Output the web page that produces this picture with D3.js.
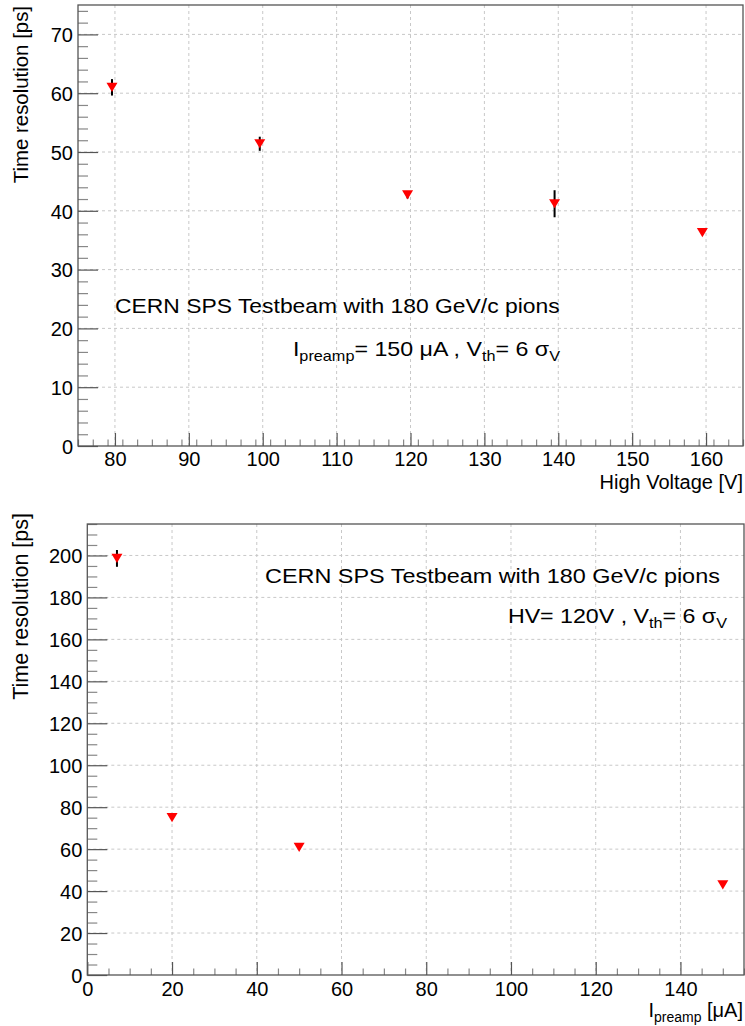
<!DOCTYPE html>
<html><head><meta charset="utf-8">
<script src="https://cdn.jsdelivr.net/npm/d3@7"></script>
<style>
body{margin:0;background:#fff;}
svg{display:block;font-family:"Liberation Sans",Arial,Helvetica,sans-serif;}
</style></head>
<body><svg id="c" width="745" height="1026"></svg>
<script>
// ---- data: top panel (time resolution vs high voltage) ----
const hvValues = [79.6, 99.6, 119.6, 139.5, 159.5];
const hvRes    = [61.0, 51.4, 42.7, 41.2, 36.3];
const hvErr    = [1.4, 1.2, 0.6, 2.3, 0.4];
const hvMajorTicks = [80, 90, 100, 110, 120, 130, 140, 150, 160];
const hvResTicks = [0, 10, 20, 30, 40, 50, 60, 70];
// ---- data: bottom panel (time resolution vs preamp current) ----
const ipValues = [7, 20, 50, 150];
const ipRes    = [198.6, 75.0, 60.8, 43.0];
const ipErr    = [4.0, 0.8, 0.8, 0.6];
const ipMajorTicks = [0, 20, 40, 60, 80, 100, 120, 140];
const ipResTicks = [0, 20, 40, 60, 80, 100, 120, 140, 160, 180, 200];

const svg = d3.select("#c");
const FS = 20;

function panel(cfg){
  const g = svg.append("g");
  const x = d3.scaleLinear().domain(cfg.xdom).range([cfg.left, cfg.right]);
  const y = d3.scaleLinear().domain(cfg.ydom).range([cfg.bottom, cfg.top]);
  // grid
  g.append("g").selectAll("line").data(cfg.xMajor.filter(v=>v>cfg.xdom[0])).join("line")
    .attr("x1",d=>x(d)).attr("x2",d=>x(d)).attr("y1",cfg.top).attr("y2",cfg.bottom)
    .attr("stroke","#c8c8c8").attr("stroke-width",1).attr("stroke-dasharray","3,3");
  g.append("g").selectAll("line").data(cfg.yMajor.filter(v=>v>cfg.ydom[0])).join("line")
    .attr("y1",d=>y(d)).attr("y2",d=>y(d)).attr("x1",cfg.left).attr("x2",cfg.right)
    .attr("stroke","#c8c8c8").attr("stroke-width",1).attr("stroke-dasharray","3,3");
  // minor ticks
  const xMinor = d3.range(cfg.xdom[0], cfg.xdom[1]+1e-9, cfg.xMinorStep).filter(v=>!cfg.xMajor.includes(v));
  const yMinor = d3.range(cfg.ydom[0], cfg.ydom[1]+1e-9, cfg.yMinorStep).filter(v=>!cfg.yMajor.includes(v));
  const xaMin = d3.axisBottom(x).tickValues(xMinor).tickSize(-cfg.xMinLen).tickFormat("");
  const xaMaj = d3.axisBottom(x).tickValues(cfg.xMajor).tickSize(-cfg.xMajLen).tickFormat(d3.format("d"));
  const yaMin = d3.axisLeft(y).tickValues(yMinor).tickSize(-cfg.yMinLen).tickFormat("");
  const yaMaj = d3.axisLeft(y).tickValues(cfg.yMajor).tickSize(-cfg.yMajLen).tickFormat(d3.format("d"));
  const gx1 = g.append("g").attr("transform",`translate(0,${cfg.bottom})`).call(xaMin);
  const gx2 = g.append("g").attr("transform",`translate(0,${cfg.bottom})`).call(xaMaj);
  const gy1 = g.append("g").attr("transform",`translate(${cfg.left},0)`).call(yaMin);
  const gy2 = g.append("g").attr("transform",`translate(${cfg.left},0)`).call(yaMaj);
  [gx1,gx2,gy1,gy2].forEach(a=>{a.select(".domain").remove(); a.selectAll(".tick line").attr("stroke","#888").attr("stroke-width",1.2);});
  [gx2,gy2].forEach(a=>a.selectAll(".tick line").attr("stroke","#555"));
  gx2.selectAll(".tick text").attr("font-size",FS).attr("fill","#000").attr("font-family","Liberation Sans, Arial, sans-serif")
     .attr("y", cfg.xLabelDy).attr("dy","0");
  gy2.selectAll(".tick text").attr("font-size",FS).attr("fill","#000").attr("font-family","Liberation Sans, Arial, sans-serif")
     .attr("x",-5).attr("dy","0.36em");
  // frame
  g.append("rect").attr("x",cfg.left).attr("y",cfg.top).attr("width",cfg.right-cfg.left).attr("height",cfg.bottom-cfg.top)
    .attr("fill","none").attr("stroke","#555").attr("stroke-width",1.3);
  // error bars
  g.append("g").selectAll("line").data(cfg.xs).join("line")
    .attr("x1",(d)=>x(d)).attr("x2",d=>x(d))
    .attr("y1",(d,i)=>y(cfg.ys[i]-cfg.es[i])).attr("y2",(d,i)=>y(cfg.ys[i]+cfg.es[i]))
    .attr("stroke","#000").attr("stroke-width",2);
  // markers (down triangles)
  g.append("g").selectAll("path").data(cfg.xs).join("path")
    .attr("d","M-5.5,-4.6L5.5,-4.6L0,4.6Z")
    .attr("transform",(d,i)=>`translate(${x(d)},${y(cfg.ys[i])})`)
    .attr("fill","#ff0000");
  return {g,x,y};
}

const p1 = panel({xdom:[75,165], ydom:[0,75], left:78, right:743, top:5, bottom:446,
  xMajor:hvMajorTicks, yMajor:hvResTicks, xMinorStep:2, yMinorStep:2,
  xMajLen:13, xMinLen:6.5, yMajLen:20, yMinLen:10, xLabelDy:20,
  xs:hvValues, ys:hvRes, es:hvErr});
const p2 = panel({xdom:[0,155], ydom:[0,215], left:87.3, right:744, top:524, bottom:975,
  xMajor:ipMajorTicks, yMajor:ipResTicks, xMinorStep:5, yMinorStep:5,
  xMajLen:13, xMinLen:6.5, yMajLen:20, yMinLen:10, xLabelDy:21,
  xs:ipValues, ys:ipRes, es:ipErr});

// text helper; optional target width stretches the text horizontally about its anchor
function addText(x, y, parts, opt){
  opt = opt || {};
  const fs = opt.fs || FS;
  const t = svg.append("text").attr("x",x).attr("y",y).attr("font-size",fs)
    .attr("text-anchor",opt.anchor||"start").attr("fill","#000");
  parts.forEach(p=>{
    const s = t.append("tspan").text(p.t);
    if(p.sub){ s.attr("font-size",fs*0.7).attr("dy",fs*0.25); }
    if(p.back){ s.attr("dy",-fs*0.25); }
  });
  let tr = "";
  if(opt.rot) tr = `rotate(-90,${x},${y})`;
  if(opt.width){
    const w = t.node().getBBox().width;
    const k = opt.width / w;
    tr += ` translate(${x},${y}) scale(${k},1) translate(${-x},${-y})`;
  }
  if(tr) t.attr("transform",tr);
  return t;
}
// top panel texts
addText(28, 6, [{t:"Time resolution [ps]"}], {anchor:"end", rot:true, fs:20.4});
addText(743, 489, [{t:"High Voltage [V]"}], {anchor:"end"});
addText(115, 313, [{t:"CERN SPS Testbeam with 180 GeV/c pions"}], {fs:20, width:445});
addText(560, 356, [{t:"I"},{t:"preamp",sub:true},{t:"= 150 μA , V",back:true},{t:"th",sub:true},{t:"= 6 σ",back:true},{t:"V",sub:true}], {anchor:"end", fs:20, width:268});
// bottom panel texts
addText(28, 513, [{t:"Time resolution [ps]"}], {anchor:"end", rot:true, fs:21.5});
addText(743, 1017, [{t:"I"},{t:"preamp",sub:true},{t:" [μA]",back:true}], {anchor:"end"});
addText(265, 583, [{t:"CERN SPS Testbeam with 180 GeV/c pions"}], {fs:20, width:455});
addText(727, 623, [{t:"HV= 120V , V"},{t:"th",sub:true},{t:"= 6 σ",back:true},{t:"V",sub:true}], {anchor:"end", fs:20, width:220});
</script></body></html>
